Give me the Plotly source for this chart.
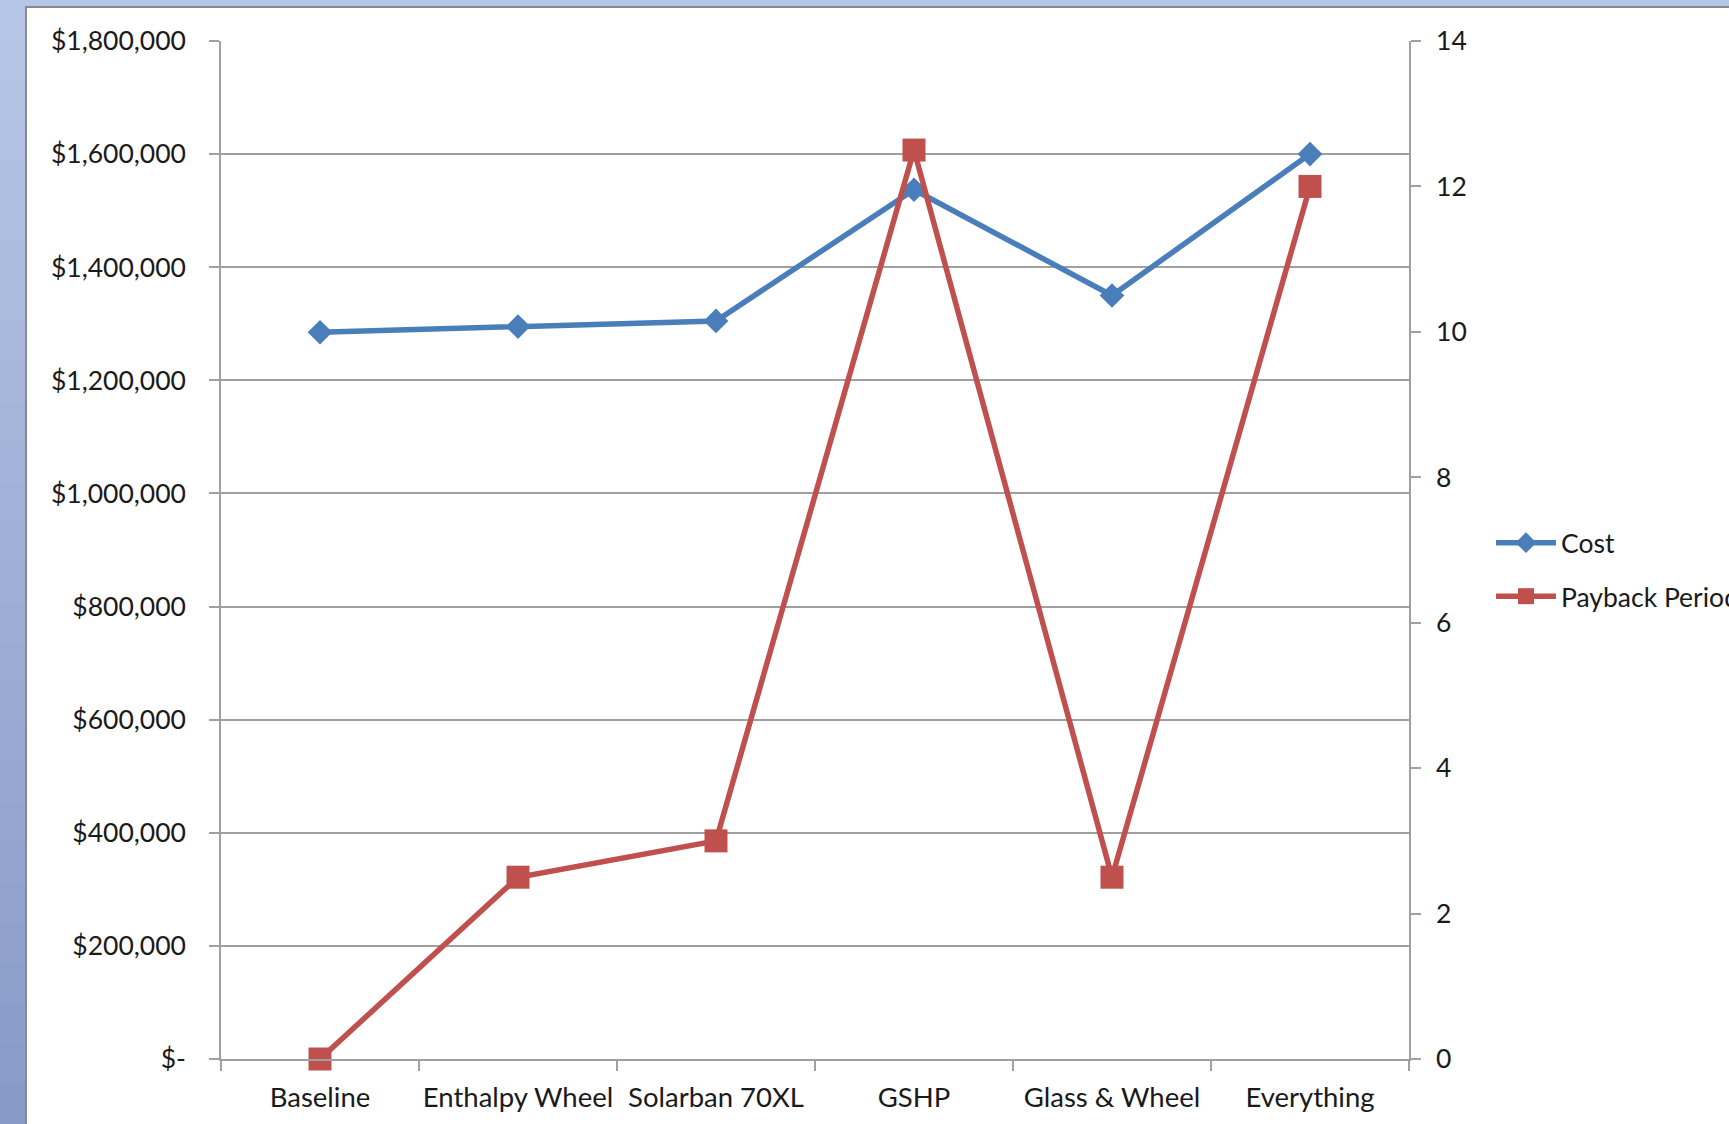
import plotly.graph_objects as go

# ---------------- data ----------------
categories = ["Baseline", "Enthalpy Wheel", "Solarban 70XL", "GSHP", "Glass & Wheel", "Everything"]
cost = [1285000, 1295000, 1305000, 1537000, 1350000, 1600000]
payback = [0, 2.5, 3.0, 12.5, 2.5, 12.0]

cost_ticks = [0, 200000, 400000, 600000, 800000, 1000000, 1200000, 1400000, 1600000, 1800000]
cost_tick_labels = ["$-", "$200,000", "$400,000", "$600,000", "$800,000", "$1,000,000",
                    "$1,200,000", "$1,400,000", "$1,600,000", "$1,800,000"]
payback_ticks = [0, 2, 4, 6, 8, 10, 12, 14]
payback_tick_labels = ["0", "2", "4", "6", "8", "10", "12", "14"]

# ---------------- layout geometry (pixels) ----------------
W, H = 1729, 1124
L, R, T, B = 221, 1409, 41, 1059
FONT = "Lato"
AXIS = "#a0a0a0"
BLUE = "#4a7ebb"
RED = "#c0504d"
TXT = "#1a1a1a"


def px(x):
    return (x - L) / (R - L)


def py(y):
    return (B - y) / (B - T)


fig = go.Figure()

fig.add_trace(go.Scatter(
    x=categories, y=cost, name="Cost", mode="lines+markers",
    line=dict(color=BLUE, width=5.5),
    marker=dict(symbol="diamond", size=19, color=BLUE),
    legendgroup="a", cliponaxis=False,
))
fig.add_trace(go.Scatter(
    x=categories, y=payback, name="Payback Period", mode="lines+markers",
    line=dict(color=RED, width=5.5),
    marker=dict(symbol="square", size=23, color=RED),
    yaxis="y2", legendgroup="b", cliponaxis=False,
))

shapes = []
# blue backdrop gradient on left strip
top_c = (182, 198, 230)
bot_c = (136, 154, 200)
n = 28
for i in range(n):
    f = i / (n - 1)
    c = tuple(int(round(top_c[k] + (bot_c[k] - top_c[k]) * f)) for k in range(3))
    y0 = H * i / n
    y1 = H * (i + 1) / n + 1
    shapes.append(dict(type="rect", xref="paper", yref="paper", layer="below",
                       x0=px(-5), x1=px(27), y0=py(y1), y1=py(y0),
                       fillcolor="rgb(%d,%d,%d)" % c, line=dict(width=0)))
# top strip
shapes.append(dict(type="rect", xref="paper", yref="paper", layer="below",
                   x0=px(20), x1=px(W + 5), y0=py(7), y1=py(-5),
                   fillcolor="rgb(182,198,230)", line=dict(width=0)))
# white card with gray border
shapes.append(dict(type="rect", xref="paper", yref="paper", layer="below",
                   x0=px(26), x1=px(W + 10), y0=py(H + 10), y1=py(7),
                   fillcolor="white", line=dict(color="#8a8a8a", width=2)))

fig.update_layout(
    width=W, height=H,
    margin=dict(l=L, r=W - R, t=T, b=H - B, autoexpand=False),
    paper_bgcolor="white", plot_bgcolor="rgba(0,0,0,0)",
    font=dict(family=FONT, size=25, color=TXT),
    shapes=shapes,
    showlegend=True,
    legend=dict(
        x=px(1491), y=py(519), xanchor="left", yanchor="top",
        bgcolor="rgba(0,0,0,0)", font=dict(family=FONT, size=26.5, color=TXT),
        traceorder="grouped", tracegroupgap=16, itemwidth=60,
    ),
    xaxis=dict(
        type="category", range=[-0.5, 5.5],
        showline=True, linecolor=AXIS, linewidth=1.5,
        ticks="outside", tickson="boundaries", ticklen=10, tickcolor=AXIS, tickwidth=1.5,
        showgrid=False, zeroline=False, ticklabelstandoff=13, tickangle=0,
        tickfont=dict(family=FONT, size=27.5, color=TXT),
    ),
    yaxis=dict(
        range=[0, 1800000], tickvals=cost_ticks, ticktext=cost_tick_labels,
        showline=True, linecolor=AXIS, linewidth=1.5,
        ticks="outside", ticklen=10, tickcolor=AXIS, tickwidth=1.5,
        showgrid=True, gridcolor=AXIS, gridwidth=1.5, zeroline=False,
        ticklabelstandoff=18,
        tickfont=dict(family=FONT, size=26.5, color=TXT),
    ),
    yaxis2=dict(
        range=[0, 14], tickvals=payback_ticks, ticktext=payback_tick_labels,
        overlaying="y", side="right",
        showline=True, linecolor=AXIS, linewidth=1.5,
        ticks="outside", ticklen=10, tickcolor=AXIS, tickwidth=1.5,
        showgrid=False, zeroline=False,
        ticklabelstandoff=10,
        tickfont=dict(family=FONT, size=26.5, color=TXT),
    ),
)

fig.write_html("out.html")
